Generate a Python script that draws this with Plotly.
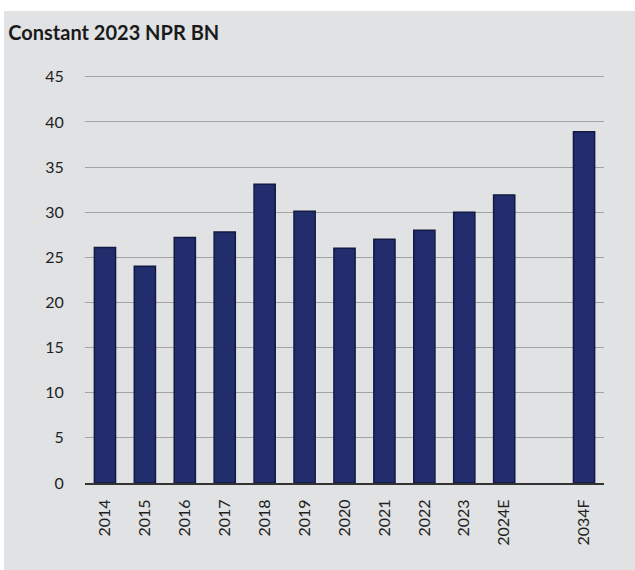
import plotly.graph_objects as go

# values, one blank slot keeps the gap before the forecast
years = ["2014", "2015", "2016", "2017", "2018", "2019", "2020", "2021",
         "2022", "2023", "2024E", " ", "2034F"]
npr_bn = [26.1, 24.0, 27.2, 27.8, 33.1, 30.1, 26.0, 27.0,
          28.0, 30.0, 31.9, None, 38.9]
y_ticks = [0, 5, 10, 15, 20, 25, 30, 35, 40, 45]

BG = "#e1e2e4"
NAVY = "#222d6d"
FONT = "Lato"

fig = go.Figure()

fig.add_trace(
    go.Bar(
        x=years,
        y=npr_bn,
        width=0.53,
        marker=dict(color=NAVY, line=dict(color="#111a42", width=1.5)),
        showlegend=False,
    )
)

fig.update_xaxes(
    type="category",
    tickangle=-90,
    tickfont=dict(family=FONT, size=16, color="#222222"),
    showgrid=False,
    showline=True,
    linecolor="#333333",
    linewidth=2,
    ticks="outside",
    ticklen=8,
    tickcolor="rgba(0,0,0,0)",
)

fig.update_yaxes(
    range=[0, 45.2],
    tickvals=y_ticks,
    tickfont=dict(family=FONT, size=16, color="#222222"),
    showgrid=True,
    gridcolor="#a3a3a3",
    gridwidth=1,
    zeroline=False,
    showline=False,
    ticks="outside",
    ticklen=17,
    tickcolor="rgba(0,0,0,0)",
)

# white strips at the top and left edge of the page
fig.add_shape(type="rect", xref="paper", yref="paper",
              x0=-0.2, x1=1.1, y0=1.157, y1=1.25,
              fillcolor="white", line=dict(width=0), layer="above")
fig.add_shape(type="rect", xref="paper", yref="paper",
              x0=-0.2, x1=-0.156, y0=-0.3, y1=1.25,
              fillcolor="white", line=dict(width=0), layer="above")

fig.update_layout(
    width=635,
    height=570,
    margin=dict(l=85, r=31, t=75, b=87),
    paper_bgcolor=BG,
    plot_bgcolor=BG,
    bargap=0.47,
    title=dict(
        text="<b>Constant 2023 NPR BN</b>",
        font=dict(family=FONT, size=20, color="#1a1a1a"),
        x=0.013,
        xanchor="left",
        xref="container",
        y=0.942,
        yanchor="middle",
    ),
)

fig.write_html(
    "out.html",
    config={"displayModeBar": False},
    post_script="document.body.style.margin='0';",
)
